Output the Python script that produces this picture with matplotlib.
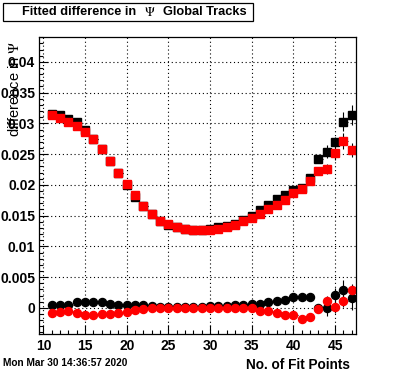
import matplotlib
matplotlib.use("Agg")
import matplotlib.pyplot as plt
from matplotlib.patches import Rectangle
from matplotlib.ticker import MultipleLocator

# number of fit points (bin centres)
fit_points = list(range(11, 48))

# upper pair: squares
sq_black = [0.0316, 0.0313, 0.0307, 0.0302, 0.0290, 0.0275, 0.0259, 0.0239, 0.0220, 0.0200,
            0.0181, 0.0165, 0.0153, 0.0142, 0.01355, 0.0131, 0.0129, 0.0127, 0.0126, 0.0129,
            0.0131, 0.0133, 0.0136, 0.0143, 0.0149, 0.0159, 0.0168, 0.0177, 0.0184, 0.0191,
            0.0195, 0.0211, 0.0242, 0.0254, 0.0270, 0.0303, 0.0314]
sq_black_err = [0.0002] * 28 + [0.0003, 0.0003, 0.0004, 0.0005, 0.0007, 0.0011, 0.0008, 0.0015, 0.0016]
sq_red = [0.0314, 0.0309, 0.0302, 0.0296, 0.0286, 0.0274, 0.0258, 0.0239, 0.0220, 0.0201,
          0.0184, 0.0165, 0.0153, 0.0142, 0.0136, 0.0132, 0.0129, 0.0127, 0.0126, 0.0127,
          0.0129, 0.0131, 0.0135, 0.0141, 0.0146, 0.0152, 0.0161, 0.0168, 0.0176, 0.0186,
          0.0193, 0.0206, 0.0223, 0.0226, 0.0252, 0.0272, 0.0257]
sq_red_err = [0.0002] * 28 + [0.0003, 0.0003, 0.0003, 0.0004, 0.0006, 0.0008, 0.0011, 0.0013, 0.0011]

# lower pair: circles
ci_black = [0.0005, 0.0004, 0.0005, 0.0009, 0.0009, 0.0009, 0.0009, 0.0007, 0.0005, 0.0005,
            0.0005, 0.0004, 0.0003, 0.0002, 0.0002, 0.0002, 0.0002, 0.0002, 0.0002, 0.0003,
            0.0003, 0.0003, 0.0004, 0.0005, 0.0007, 0.0007, 0.0010, 0.0011, 0.0013, 0.0017,
            0.0018, 0.0018, -0.0001, -0.0001, 0.0021, 0.0029, 0.0016]
ci_black_err = [0.00015] * 30 + [0.0003, 0.0004, 0.0008, 0.0012, 0.0012, 0.0017, 0.0019]
ci_red = [-0.0008, -0.0007, -0.0005, -0.0009, -0.0011, -0.0012, -0.0010, -0.0010, -0.0009, -0.0007,
          -0.0003, -0.0002, 0.0, -0.0001, 0.0, 0.0, 0.0, 0.0, 0.0, 0.0,
          0.0, -0.0001, -0.0001, 0.0, -0.0001, -0.0005, -0.0005, -0.0008, -0.0011, -0.0011,
          -0.0018, -0.0015, -0.0002, 0.0011, 0.0002, 0.0011, 0.0029]
ci_red_err = [0.00015] * 30 + [0.0003, 0.0003, 0.0005, 0.0008, 0.0010, 0.0010, 0.0010]

y_ticks = [0, 0.005, 0.01, 0.015, 0.02, 0.025, 0.03, 0.035, 0.04]
y_tick_labels = ["0", "0.005", "0.01", "0.015", "0.02", "0.025", "0.03", "0.035", "0.04"]

plt.rcParams['font.family'] = ['Liberation Sans', 'DejaVu Sans']
plt.rcParams['mathtext.fontset'] = 'stix'

W, H = 396, 372
fig = plt.figure(figsize=(W / 100, H / 100), dpi=100)
ax = fig.add_axes([39.3 / W, 1 - 333.7 / H, (356 - 39.3) / W, (333.7 - 37.3) / H])

ms = 5.8
eb = dict(xerr=0.5, ls='none', ecolor='black', elinewidth=0.8, capsize=0)
ax.errorbar(fit_points, sq_black, yerr=sq_black_err, marker='s', ms=ms, mfc='black', mec='black', **eb)
ax.errorbar(fit_points, sq_red, yerr=sq_red_err, marker='s', ms=ms, mfc='red', mec='red', **eb)
ax.errorbar(fit_points, ci_black, yerr=ci_black_err, marker='o', ms=ms, mfc='black', mec='black', **eb)
ax.errorbar(fit_points, ci_red, yerr=ci_red_err, marker='o', ms=ms, mfc='red', mec='red', **eb)

ax.set_xlim(9.5, 47.5)
ax.set_ylim(-0.0042, 0.044)
ax.xaxis.set_major_locator(MultipleLocator(5))
ax.xaxis.set_minor_locator(MultipleLocator(1))
ax.set_yticks(y_ticks)
ax.set_yticklabels(y_tick_labels)
ax.yaxis.set_minor_locator(MultipleLocator(0.001))

ax.tick_params(which='both', direction='in', top=False, right=False, width=0.8)
ax.tick_params(which='major', length=6.5)
ax.tick_params(which='minor', length=3.2)
ax.tick_params(axis='y', pad=3, labelsize=10)
ax.tick_params(axis='x', pad=4, labelsize=10)
for lab in ax.get_xticklabels() + ax.get_yticklabels():
    lab.set_fontweight('bold')
for sp in ax.spines.values():
    sp.set_linewidth(0.9)

ax.grid(True, which='major', color='black', linestyle=(0, (1, 2.5)), linewidth=0.8)
ax.set_axisbelow(True)

# title box
fig.patches.append(Rectangle((3 / W, 1 - 21 / H), 250 / W, 18 / H, transform=fig.transFigure,
                             fill=False, edgecolor='black', linewidth=0.9))
fig.text(22 / W, 1 - 12 / H, "Fitted difference in", fontsize=9.2, fontweight='bold', va='center')
fig.text(144 / W, 1 - 12 / H, r"$\Psi$", fontsize=9.5, va='center')
fig.text(163 / W, 1 - 12 / H, "Global Tracks", fontsize=9.2, fontweight='bold', va='center')

# axis titles
fig.text(15 / W, 1 - 41 / H, r"difference in $\Psi$", fontsize=10.5, rotation=90, ha='center', va='top')
fig.text(350 / W, 1 - 365 / H, "No. of Fit Points", fontsize=9.8, fontweight='bold', ha='right', va='center')
fig.text(3 / W, 1 - 363 / H, "Mon Mar 30 14:36:57 2020", fontsize=7.3, fontweight='bold', va='center')

fig.savefig("out.png", dpi=100)
